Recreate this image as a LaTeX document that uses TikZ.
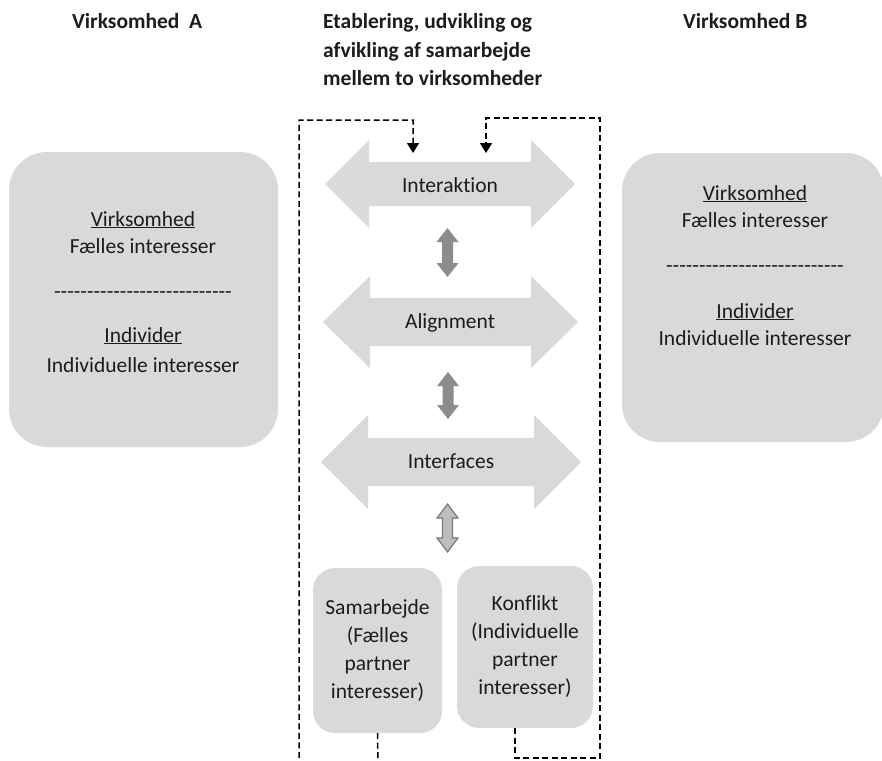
\documentclass[tikz,border=0pt]{standalone}
\usepackage{fontspec}
\setmainfont{Carlito}[Ligatures={TeX,NoCommon}]
\usetikzlibrary{arrows.meta}
\definecolor{boxgray}{HTML}{D9D9D9}
\definecolor{arrgray}{HTML}{8C8C8C}
\definecolor{arrlight}{HTML}{BDBDBD}
\definecolor{arredge}{HTML}{7A7A7A}
\definecolor{txt}{HTML}{1C1C1C}
\newcommand\mydashes{-{}-{}-{}-{}-{}-{}-{}-{}-{}-{}-{}-{}-{}-{}-{}-{}-{}-{}-{}-{}-{}-{}-{}-{}-{}-{}-}
\newcommand\mydbl[6]{% x1 x2 y shaft head headlen (horizontal)
  \pgfmathsetmacro\xa{#1}\pgfmathsetmacro\xb{#1+#6}%
  \pgfmathsetmacro\xc{#2-#6}\pgfmathsetmacro\xd{#2}%
  \pgfmathsetmacro\ya{#3-#5}\pgfmathsetmacro\yb{#3-#4}%
  \pgfmathsetmacro\yc{#3+#4}\pgfmathsetmacro\yd{#3+#5}%
  \fill[boxgray] (\xa,#3) -- (\xb,\ya) -- (\xb,\yb) -- (\xc,\yb) -- (\xc,\ya) -- (\xd,#3)
     -- (\xc,\yd) -- (\xc,\yc) -- (\xb,\yc) -- (\xb,\yd) -- cycle;}
\newcommand\myvdbl[7]{% x y1 y2 shaft head headlen style (vertical)
  \pgfmathsetmacro\ya{#2}\pgfmathsetmacro\yb{#2+#6}%
  \pgfmathsetmacro\yc{#3-#6}\pgfmathsetmacro\yd{#3}%
  \pgfmathsetmacro\xa{#1-#5}\pgfmathsetmacro\xb{#1-#4}%
  \pgfmathsetmacro\xc{#1+#4}\pgfmathsetmacro\xd{#1+#5}%
  \path[#7] (#1,\ya) -- (\xd,\yb) -- (\xc,\yb) -- (\xc,\yc) -- (\xd,\yc) -- (#1,\yd)
     -- (\xa,\yc) -- (\xb,\yc) -- (\xb,\yb) -- (\xa,\yb) -- cycle;}
\begin{document}
\begin{tikzpicture}[x=1pt,y=-1pt,
  every node/.style={text=txt, font=\fontsize{21.5}{28}\selectfont, inner sep=0pt},
  bigbox/.style={fill=boxgray, rounded corners=38pt},
  smallbox/.style={fill=boxgray, rounded corners=22pt, align=center},
  hdr/.style={font=\fontsize{21.5}{28}\selectfont\bfseries, anchor=base west, align=left},
  line/.style={anchor=base},
  loop/.style={line width=1.5pt, dash pattern=on 6pt off 3.5pt, -{Triangle[width=12pt,length=10pt]}}]
\useasboundingbox (0,0) rectangle (882,760);

% headers
\node[hdr] (hA) at (72,29) {Virksomhed\ \ A};
\node[hdr] (hB) at (683,29) {Virksomhed B};
\node[hdr] (hC1) at (323,29) {Etablering, udvikling og};
\node[hdr] (hC2) at (323,57) {afvikling af samarbejde};
\node[hdr] (hC3) at (323,85) {mellem to virksomheder};

% side boxes
\node[bigbox, minimum width=269pt, minimum height=295pt] (A) at (143.5,299.5) {};
\node[bigbox, minimum width=262pt, minimum height=289pt] (B) at (753,297.5) {};

\node[line] (A1) at (143,226) {\underline{Virksomhed}};
\node[line] (A2) at (143,253) {Fælles interesser};
\node[line] (A3) at (143,298) {\mydashes};
\node[line] (A4) at (143,342) {\underline{Individer}};
\node[line] (A5) at (143,372) {Individuelle interesser};

\node[line] (B1) at (755,200) {\underline{Virksomhed}};
\node[line] (B2) at (755,227) {Fælles interesser};
\node[line] (B3) at (755,272) {\mydashes};
\node[line] (B4) at (755,318) {\underline{Individer}};
\node[line] (B5) at (755,345) {Individuelle interesser};

% big double arrows
\mydbl{325}{575}{184}{22}{44}{44}
\mydbl{323}{578}{322}{24}{46}{47}
\mydbl{321}{581}{462}{24}{47}{47}
\node[line] (I1) at (450,192) {Interaktion};
\node[line] (I2) at (450,328) {Alignment};
\node[line] (I3) at (451,468) {Interfaces};

% small vertical arrows
\myvdbl{447.5}{228}{277}{5.5}{11}{14}{fill=arrgray}
\myvdbl{448}{372}{419}{5.5}{11}{14}{fill=arrgray}
\myvdbl{447.5}{504}{552}{5}{10.5}{14}{fill=arrlight, draw=arredge, line width=1.2pt}

% bottom boxes
\node[smallbox, minimum width=129pt, minimum height=165pt] (S) at (377.5,650.5)
  {Samarbejde\\(Fælles\\partner\\interesser)};
\node[smallbox, minimum width=136pt, minimum height=162pt] (K) at (525,647)
  {Konflikt\\(Individuelle\\partner\\interesser)};

% dashed feedback loops
\coordinate (L1) at (378,763);
\coordinate (L2) at (299,763);
\coordinate (L3) at (299,120);
\coordinate (L4) at (413,120);
\coordinate (L5) at (413,153);
\draw[loop] (S.south) -- (L1) -- (L2) -- (L3) -- (L4) -- (L5);

\coordinate (R1) at (515,758);
\coordinate (R2) at (600,758);
\coordinate (R3) at (600,118);
\coordinate (R4) at (486,118);
\coordinate (R5) at (486,153);
\draw[loop] (R1 |- K.south) -- (R1) -- (R2) -- (R3) -- (R4) -- (R5);
\end{tikzpicture}
\end{document}
